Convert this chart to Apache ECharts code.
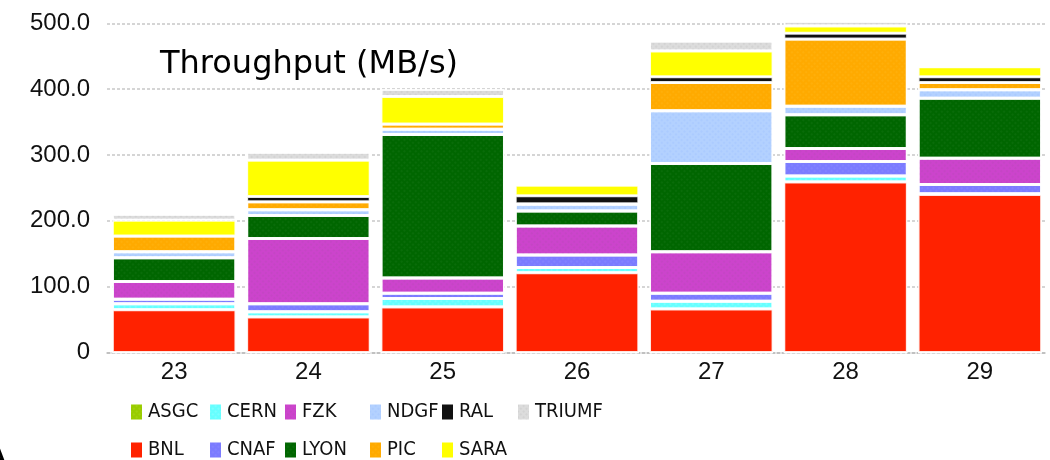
<!DOCTYPE html>
<html>
<head>
<meta charset="utf-8">
<script src="https://cdn.jsdelivr.net/npm/echarts@6/dist/echarts.min.js"></script>
<style>
  html, body { margin: 0; padding: 0; background: #fff; }
  #main { width: 1050px; height: 460px; }
</style>
</head>
<body>
<div id="main"></div>
<script>
// days on the x axis
var days = ['23', '24', '25', '26', '27', '28', '29'];

// throughput per site, MB/s (stacked bottom -> top, alphabetical)
var ASGC   = [0, 0, 0, 0, 0, 0, 0];
var BNL    = [65, 54, 69, 121, 66, 259, 240];
var CERN   = [9, 8, 13, 8, 12, 9, 1];
var CNAF   = [7, 12, 8, 19, 12, 22, 14];
var FZK    = [27, 99, 23, 44, 63, 20, 40];
var LYON   = [36, 35, 218, 23, 134, 51, 91];
var NDGF   = [9, 9, 8, 10, 80, 13, 13];
var PIC    = [24, 12, 8, 1, 43, 102, 11];
var RAL    = [0, 8, 0, 12, 9, 9, 9];
var SARA   = [24, 55, 42, 16, 39, 11, 15];
var TRIUMF = [9, 12, 11, 0, 15, 7, 0];

var yTicks = [0, 100, 200, 300, 400, 500];

var sites = [
  { name: 'ASGC',   data: ASGC,   color: '#99cc00', dec: 'rgba(200,240,80,0.7)' },
  { name: 'BNL',    data: BNL,    color: '#ff2200', dec: null },
  { name: 'CERN',   data: CERN,   color: '#66ffff', dec: 'rgba(190,255,255,0.9)' },
  { name: 'CNAF',   data: CNAF,   color: '#7b7bff', dec: 'rgba(160,160,255,0.8)' },
  { name: 'FZK',    data: FZK,    color: '#cc44cc', dec: 'rgba(150,80,150,0.55)' },
  { name: 'LYON',   data: LYON,   color: '#006600', dec: 'rgba(70,150,70,0.55)' },
  { name: 'NDGF',   data: NDGF,   color: '#b3d1ff', dec: 'rgba(130,170,255,0.6)' },
  { name: 'PIC',    data: PIC,    color: '#ffaa00', dec: 'rgba(255,200,60,0.7)' },
  { name: 'RAL',    data: RAL,    color: '#111111', dec: null },
  { name: 'SARA',   data: SARA,   color: '#ffff00', dec: null },
  { name: 'TRIUMF', data: TRIUMF, color: '#dcdcdc', dec: 'rgba(170,170,170,0.7)' }
];

var series = sites.map(function (s) {
  var style = {
    color: s.color,
    borderColor: 'rgba(255,255,255,0.85)',
    borderWidth: 1.5
  };
  if (s.dec) {
    style.decal = {
      symbol: 'rect',
      symbolSize: 0.5,
      color: s.dec,
      dashArrayX: [2, 2],
      dashArrayY: [2, 2],
      rotation: Math.PI / 4
    };
  }
  return {
    name: s.name,
    type: 'bar',
    stack: 'total',
    barCategoryGap: '8%',
    clip: false,
    itemStyle: style,
    emphasis: { disabled: true },
    data: s.data
  };
});

// legend laid out in columns like the original
var legendCols = [['ASGC', 'BNL'], ['CERN', 'CNAF'], ['FZK', 'LYON'], ['NDGF', 'PIC'], ['RAL', 'SARA'], ['TRIUMF']];
var legendX = [131, 210, 285, 370, 442, 518];
var legends = legendCols.map(function (col, i) {
  return {
    data: col,
    orient: 'vertical',
    left: legendX[i],
    top: 401,
    height: 120,
    padding: 0,
    itemWidth: 11,
    itemHeight: 15,
    itemGap: 16,
    selectedMode: false,
    icon: 'rect',
    itemStyle: { borderWidth: 0 },
    textStyle: {
      fontFamily: '"DejaVu Sans Condensed", "Liberation Sans", Arial, sans-serif',
      fontSize: 20,
      lineHeight: 22,
      color: '#111',
      padding: [0, 0, 0, 1]
    }
  };
});

var chart = echarts.init(document.getElementById('main'), null, { renderer: 'canvas' });
chart.setOption({
  animation: false,
  backgroundColor: '#fff',
  grid: { left: 107, right: 3, top: 23.3, bottom: 107.5 },
  legend: legends,
  xAxis: {
    type: 'category',
    data: days,
    axisTick: { show: false },
    axisLine: { show: true, lineStyle: { color: '#bbb', type: [3, 2], width: 1.5 } },
    axisLabel: {
      margin: 8,
      fontFamily: '"Liberation Sans", Arial, sans-serif',
      fontSize: 24,
      color: '#111'
    }
  },
  yAxis: {
    type: 'value',
    min: yTicks[0],
    max: yTicks[yTicks.length - 1],
    interval: 100,
    axisLine: { show: false },
    axisTick: { show: false },
    splitLine: { lineStyle: { color: '#c8c8c8', type: [3, 2], width: 1.5 } },
    axisLabel: {
      margin: 17,
      fontFamily: '"Liberation Sans", Arial, sans-serif',
      fontSize: 24,
      color: '#111',
      formatter: function (v) { return v === 0 ? '0' : v.toFixed(1); }
    }
  },
  graphic: [
    {
      type: 'text',
      left: 160,
      top: 49,
      style: {
        text: 'Throughput (MB/s)',
        font: '32px "DejaVu Sans", sans-serif',
        fill: '#000'
      }
    },
    {
      type: 'text',
      left: -16,
      top: 441,
      style: {
        text: 'A',
        font: '34px "DejaVu Sans", sans-serif',
        fill: '#000'
      }
    }
  ],
  series: series
});
</script>
</body>
</html>
